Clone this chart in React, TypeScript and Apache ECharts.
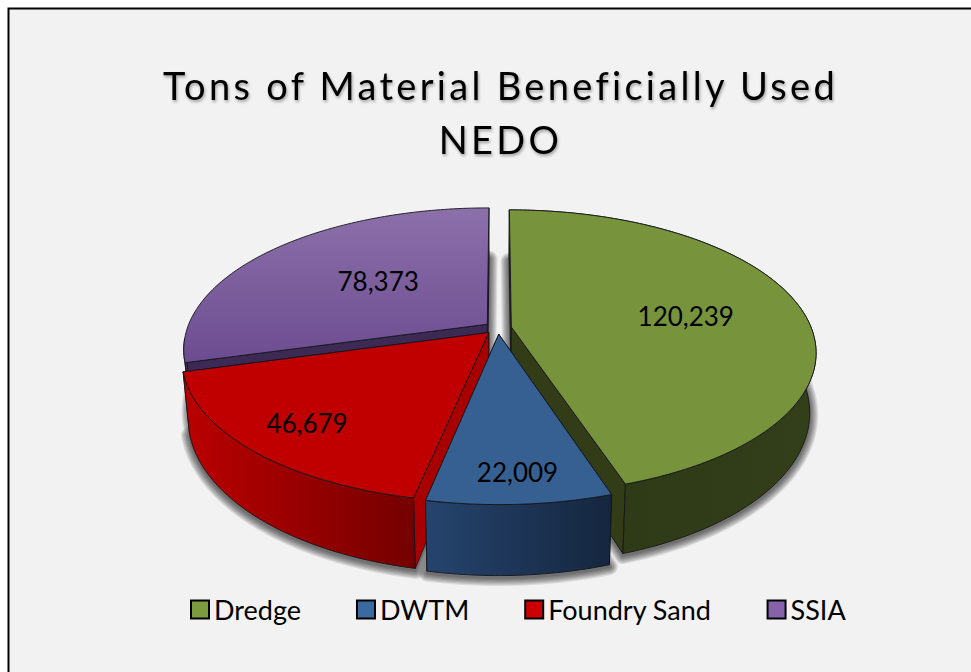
import React, { useEffect, useRef } from "react";
import * as echarts from "echarts";

const categories = ["Dredge", "DWTM", "Foundry Sand", "SSIA"];
const tons = [120239, 22009, 46679, 78373];
const titleLines = ["Tons of Material Beneficially Used", "NEDO"];

const legendColors = ["#7c9a3e", "#3a6a9f", "#cc0000", "#8662ab"];
const topColors: any[] = [
  "#77933c",
  "#376092",
  "#c00000",
  { type: "linear", x: 0, y: 0, x2: 0, y2: 1, colorStops: [{ offset: 0, color: "#8c70aa" }, { offset: 1, color: "#6c4c90" }] },
];
const wallColors = [
  ["#333f19", "#2c3715"],
  ["#25446e", "#15263e"],
  ["#bb0000", "#740000"],
  ["#3c2a55", "#3c2a55"],
];
const faceColors = ["#323d18", "#1d3557", "#a80000", "#3c2a55"];
const labelRadius = [0.6, 0.85, 0.8, 0.52];
const labelNudge = [[0, 2], [1.5, -2], [3, -1], [7.5, -3]];
const drawOrder = [3, 0, 2, 1];
const shadowLayers = [1, 2, 3, 4, 5, 6, 7];

const CX = 498, CY = 328, RX = 300, RY = 138, P = 0.1755, E = 0.045, H = 58, SHRINK = 0.98;
const WALL_LIMIT = (264 * Math.PI) / 180;
const TOTAL = tons.reduce((a, b) => a + b, 0);

function sliceAngles(i: number) {
  const before = tons.slice(0, i).reduce((a, b) => a + b, 0);
  const start = (before / TOTAL) * Math.PI * 2;
  const end = ((before + tons[i]) / TOTAL) * Math.PI * 2;
  return { start, end, mid: (start + end) / 2 };
}

function point(i: number, theta: number, r: number, bottom: boolean): number[] {
  const { mid } = sliceAngles(i);
  const X = r * Math.sin(theta) + E * Math.sin(mid);
  const Y = r * Math.cos(theta) + E * Math.cos(mid);
  const f = 1 / (1 + P * Y);
  let x = RX * X * f;
  let y = CY - RY * Y * f;
  if (bottom) {
    x *= SHRINK;
    y += H * f;
  }
  return [CX + x, y];
}

function arc(i: number, a: number, b: number, bottom: boolean) {
  const n = Math.max(2, Math.ceil(Math.abs(b - a) / (Math.PI / 180)));
  const pts: number[][] = [];
  for (let k = 0; k <= n; k++) pts.push(point(i, a + ((b - a) * k) / n, 1, bottom));
  return pts;
}

const edge = { stroke: "#15151c", lineWidth: 0.9, lineJoin: "round" };

function renderSlice(i: number) {
  return () => {
    const { start, end, mid } = sliceAngles(i);
    const wallEnd = Math.min(end, WALL_LIMIT);
    const apex = point(i, 0, 0, false);
    const apexB = point(i, 0, 0, true);
    const face = (t: number) => ({
      type: "polygon",
      silent: true,
      shape: { points: [apex, point(i, t, 1, false), point(i, t, 1, true), apexB] },
      style: { fill: faceColors[i], ...edge },
    });
    const wall = {
      type: "polygon",
      silent: true,
      shape: { points: [...arc(i, start, wallEnd, false), ...arc(i, wallEnd, start, true)] },
      style: {
        fill: {
          type: "linear", x: i === 0 ? 1 : 0, y: 0, x2: i === 0 ? 0 : 1, y2: 0,
          colorStops: [{ offset: 0, color: wallColors[i][0] }, { offset: 1, color: wallColors[i][1] }],
        },
        ...edge,
      },
    };
    const top = {
      type: "polygon",
      silent: true,
      shape: { points: [apex, ...arc(i, start, end, false)] },
      style: { fill: topColors[i], ...edge },
    };
    const lp = point(i, mid, labelRadius[i], false);
    const label = {
      type: "text",
      silent: true,
      style: {
        x: lp[0] + labelNudge[i][0], y: lp[1] + labelNudge[i][1],
        text: tons[i].toLocaleString("en-US"),
        fill: "#000", fontFamily: "Lato", fontSize: 26,
        align: "center", verticalAlign: "middle",
      },
    };
    const faces = i === 0 ? [face(start), face(end)] : [face(end), face(start)];
    return { type: "group", children: [...faces, wall, top, label] };
  };
}

function renderShadows() {
  const children: any[] = [];
  tons.forEach((_, i) => {
    const { start, end } = sliceAngles(i);
    const pts = [point(i, 0, 0, true), ...arc(i, start, end, true)].map((p) => [p[0], p[1] + 2]);
    shadowLayers.forEach((k) => {
      children.push({
        type: "polygon",
        silent: true,
        shape: { points: pts },
        style: { fill: "none", stroke: "rgba(0,0,0,0.1)", lineWidth: k * 2.4, lineJoin: "round" },
      });
    });
  });
  return { type: "group", children };
}

export default function App() {
  const ref = useRef<HTMLDivElement>(null);
  useEffect(() => {
    const el = ref.current!;
    const chart = echarts.init(el, undefined, { renderer: "svg" });
    chart.setOption({
      animation: false,
      backgroundColor: "#ffffff",
      graphic: [
        { type: "rect", z: -10, silent: true, shape: { x: 8, y: 8, width: 963, height: 664 }, style: { fill: "#f2f2f2" } },
        { type: "polyline", z: -9, silent: true, shape: { points: [[8.5, 672], [8.5, 8.5], [971, 8.5]] }, style: { fill: "none", stroke: "#000", lineWidth: 2 } },
      ],
      title: {
        text: titleLines.join("\n"),
        left: 495.5,
        top: 53,
        textAlign: "center",
        textStyle: {
          fontFamily: "Lato", fontSize: 38, fontWeight: "normal", color: "#000", lineHeight: 54,
          textShadowColor: "rgba(0,0,0,0.35)", textShadowBlur: 3, textShadowOffsetX: 1, textShadowOffsetY: 2,
        },
      },
      legend: {
        data: categories.map((name, i) => ({
          name,
          icon: "rect",
          itemStyle: { color: legendColors[i], borderColor: "#000", borderWidth: 2 },
        })),
        selectedMode: false,
        left: 185,
        top: 591,
        itemWidth: 18,
        itemHeight: 18,
        itemGap: 55,
        textStyle: { fontFamily: "Lato", fontSize: 27, color: "#000" },
      },
      series: [
        { type: "custom", name: "shadow", coordinateSystem: "none", silent: true, renderItem: renderShadows, data: [[0]] },
        ...drawOrder.map((i) => ({
          type: "custom",
          name: categories[i],
          coordinateSystem: "none",
          silent: true,
          itemStyle: { color: legendColors[i] },
          renderItem: renderSlice(i),
          data: [[tons[i]]],
        })),
      ],
    });
    el.querySelectorAll("text").forEach((t) => {
      if (titleLines.includes((t.textContent || "").trim())) t.style.letterSpacing = "3.3px";
    });
    return () => chart.dispose();
  }, []);
  return <div ref={ref} style={{ position: "fixed", left: 0, top: 0, width: 971, height: 672 }} />;
}
